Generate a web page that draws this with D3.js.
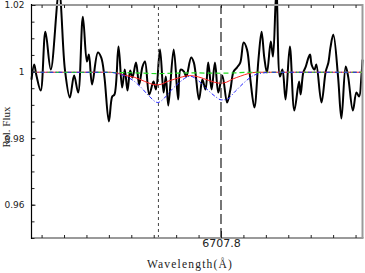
<!DOCTYPE html>
<html><head><meta charset="utf-8">
<script src="https://cdn.jsdelivr.net/npm/d3@7/dist/d3.min.js"></script>
<style>body{margin:0;background:#fff}svg{display:block}</style>
</head><body>
<svg id="c" width="365" height="273"></svg>
<script>
// ---- data ----
const xDomain = [6706.955, 6708.431];
const yDomain = [0.95, 1.02];
const xMinorTicks = [6707.0,6707.1,6707.2,6707.3,6707.4,6707.5,6707.6,6707.7,6707.8,6707.9,6708.0,6708.1,6708.2,6708.3,6708.4];
const xLabelTicks = [6707.8];
const yMinorTicks = [0.95,0.955,0.96,0.965,0.97,0.975,0.98,0.985,0.99,0.995,1.0,1.005,1.01,1.015,1.02];
const yLabelTicks = [0.96,0.98,1.0,1.02];
const yTickLabels = ["0.96","0.98","1","1.02"];
const lineMarks = [6707.521, 6707.8];

const specWave = [6706.955,6706.967,6706.977,6706.996,6707.017,6707.041,6707.078,6707.104,6707.126,6707.145,
6707.163,6707.184,6707.202,6707.211,6707.225,6707.251,6707.266,6707.280,6707.300,6707.315,
6707.325,6707.343,6707.359,6707.371,6707.383,6707.395,6707.405,6707.421,6707.435,6707.450,
6707.461,6707.480,6707.499,6707.510,6707.528,6707.544,6707.554,6707.565,6707.589,6707.609,
6707.620,6707.635,6707.645,6707.667,6707.679,6707.702,6707.717,6707.731,6707.743,6707.758,
6707.773,6707.788,6707.806,6707.827,6707.842,6707.856,6707.871,6707.886,6707.901,6707.916,
6707.931,6707.949,6707.967,6707.981,6707.993,6708.005,6708.022,6708.032,6708.047,6708.063,
6708.074,6708.088,6708.107,6708.127,6708.148,6708.155,6708.167,6708.178,6708.190,6708.197,
6708.204,6708.217,6708.225,6708.248,6708.267,6708.279,6708.288,6708.301,6708.322,6708.337,
6708.356,6708.367,6708.388,6708.404,6708.416,6708.426,6708.431];
const specFlux = [0.9976,1.0021,0.9988,0.9943,1.0120,1.0006,1.0241,1.0006,0.9922,0.9988,
0.9937,1.0165,1.0030,1.0051,0.9961,1.0057,1.0042,0.9985,0.9850,0.9925,
0.9931,1.0075,0.9952,1.0006,0.9943,1.0003,0.9982,1.0027,0.9961,1.0015,
1.0030,0.9931,0.9970,0.9946,1.0066,0.9937,0.9985,0.9898,1.0066,0.9916,
1.0006,1.0000,0.9985,1.0042,1.0027,0.9916,0.9976,0.9946,1.0027,0.9946,
1.0027,0.9937,0.9988,0.9907,0.9946,1.0000,1.0012,1.0027,1.0087,1.0066,
0.9976,0.9892,1.0036,1.0120,1.0042,0.9997,1.0090,1.0045,1.0247,0.9985,
1.0006,0.9916,1.0075,0.9883,0.9970,0.9931,0.9997,1.0015,1.0042,1.0051,
1.0021,1.0006,1.0021,0.9907,1.0000,1.0027,1.0072,1.0111,0.9985,0.9859,
1.0015,0.9985,0.9883,0.9937,0.9925,0.9985,1.0036];

const redWave = [6706.955,6707.306,6707.342,6707.368,6707.413,6707.458,6707.484,6707.511,6707.534,6707.560,6707.592,6707.627,6707.659,6707.699,6707.743,6707.770,6707.797,6707.824,6707.850,6707.886,6707.922,6707.958,6707.998,6708.431];
const redFlux = [0.9998,0.9998,0.9995,0.9989,0.9983,0.9971,0.9964,0.9960,0.9962,0.9970,0.9977,0.9984,0.9988,0.9984,0.9974,0.9968,0.9965,0.9968,0.9977,0.9986,0.9994,0.9998,0.9998,0.9998];

const blueWave = [6706.955,6707.297,6707.333,6707.368,6707.413,6707.444,6707.480,6707.518,6707.547,6707.578,6707.614,6707.650,6707.663,6707.702,6707.739,6707.775,6707.801,6707.824,6707.864,6707.900,6707.944,6707.989,6708.029,6708.431];
const blueFlux = [0.9998,0.9998,0.9995,0.9988,0.9971,0.9952,0.9926,0.9907,0.9920,0.9944,0.9967,0.9984,0.9986,0.9971,0.9946,0.9925,0.9915,0.9916,0.9941,0.9965,0.9988,0.9996,0.9998,0.9998];

const greenWave = [6706.955,6707.373,6707.515,6707.663,6707.801,6707.951,6708.431];
const greenFlux = [0.9998,0.9997,0.9994,0.9996,0.9995,0.9998,0.9998];

// ---- layout ----
const m = {l:31.5, t:5, r:362.5, b:238};
const svg = d3.select("#c");
const x = d3.scaleLinear().domain(xDomain).range([m.l, m.r]);
const y = d3.scaleLinear().domain(yDomain).range([m.b, m.t]);
const zip = (a,b) => a.map((v,i)=>[v,b[i]]);
const line = d3.line().x(d=>x(d[0])).y(d=>y(d[1]));
const smooth = d3.line().x(d=>x(d[0])).y(d=>y(d[1])).curve(d3.curveCatmullRom.alpha(0.5));

// spectrum
svg.append("path").datum(zip(specWave,specFlux)).attr("d",smooth)
  .attr("fill","none").attr("stroke","#000").attr("stroke-width",2).attr("stroke-linejoin","round");

// models
svg.append("path").datum(zip(redWave,redFlux)).attr("d",smooth.curve(d3.curveMonotoneX))
  .attr("fill","none").attr("stroke","#ff2020").attr("stroke-width",1);
svg.append("path").datum(zip(greenWave,greenFlux)).attr("d",smooth)
  .attr("fill","none").attr("stroke","#22dd22").attr("stroke-width",1.2).attr("stroke-dasharray","5,3");
svg.append("path").datum(zip(blueWave,blueFlux)).attr("d",smooth)
  .attr("fill","none").attr("stroke","#2020ff").attr("stroke-width",1).attr("stroke-dasharray","4,2,1,2");

// vertical line markers
svg.append("line").attr("x1",x(lineMarks[0])).attr("x2",x(lineMarks[0])).attr("y1",y(yDomain[0])).attr("y2",y(yDomain[1]))
  .attr("stroke","#444").attr("stroke-width",1).attr("stroke-dasharray","3,3");
svg.append("line").attr("x1",x(lineMarks[1])).attr("x2",x(lineMarks[1])).attr("y1",y(yDomain[0])).attr("y2",y(yDomain[1]))
  .attr("stroke","#555").attr("stroke-width",1.6).attr("stroke-dasharray","10,4");

// frame
const frameGray = "#9a9a9a";
svg.append("line").attr("x1",m.l).attr("x2",m.r).attr("y1",m.t).attr("y2",m.t).attr("stroke",frameGray).attr("stroke-width",2);
svg.append("line").attr("x1",m.l).attr("x2",m.r+1).attr("y1",m.b).attr("y2",m.b).attr("stroke",frameGray).attr("stroke-width",2);
svg.append("line").attr("x1",m.r).attr("x2",m.r).attr("y1",m.t-1).attr("y2",m.b).attr("stroke",frameGray).attr("stroke-width",2);

// axes
function styleAxis(g){ g.select(".domain").remove(); g.selectAll("line").attr("stroke","#222"); g.selectAll("text").attr("fill","#222"); }
svg.append("g").attr("transform",`translate(0,${m.b})`)
  .call(d3.axisBottom(x).tickValues(xMinorTicks).tickSize(-3).tickFormat("")).call(styleAxis);
svg.append("g").attr("transform",`translate(0,${m.b})`)
  .call(d3.axisBottom(x).tickValues(xLabelTicks).tickSize(-7).tickPadding(1).tickFormat(d3.format(".1f")))
  .call(styleAxis)
  .selectAll("text").attr("font-family","DejaVu Sans").attr("font-size",11).attr("dy","0.75em");
svg.append("g").attr("transform",`translate(0,${m.t})`)
  .call(d3.axisTop(x).tickValues(xMinorTicks).tickSize(-3).tickFormat("")).call(styleAxis);
svg.append("g").attr("transform",`translate(${m.l},0)`)
  .call(d3.axisLeft(y).tickValues(yMinorTicks).tickSize(-3).tickFormat("")).call(styleAxis);
svg.append("g").attr("transform",`translate(${m.l},0)`)
  .call(d3.axisLeft(y).tickValues(yLabelTicks).tickSize(-4).tickPadding(7).tickFormat((d,i)=>yTickLabels[i]))
  .call(styleAxis)
  .selectAll("text").attr("font-family","DejaVu Sans").attr("font-size",9);
svg.append("line").attr("x1",m.l).attr("x2",m.l).attr("y1",m.t-1).attr("y2",m.b+1).attr("stroke","#000").attr("stroke-width",1.2);

// titles
svg.append("text").attr("x",190).attr("y",267.5).attr("text-anchor","middle")
  .attr("font-family","Liberation Serif").attr("font-size",11.5).attr("letter-spacing",1.2).attr("fill","#222")
  .text("Wavelength(Å)");
svg.append("text").attr("transform","translate(10,127) rotate(-90)").attr("text-anchor","middle")
  .attr("font-family","Liberation Serif").attr("font-size",11).attr("fill","#222")
  .text("Rel. Flux");
</script>
</body></html>
